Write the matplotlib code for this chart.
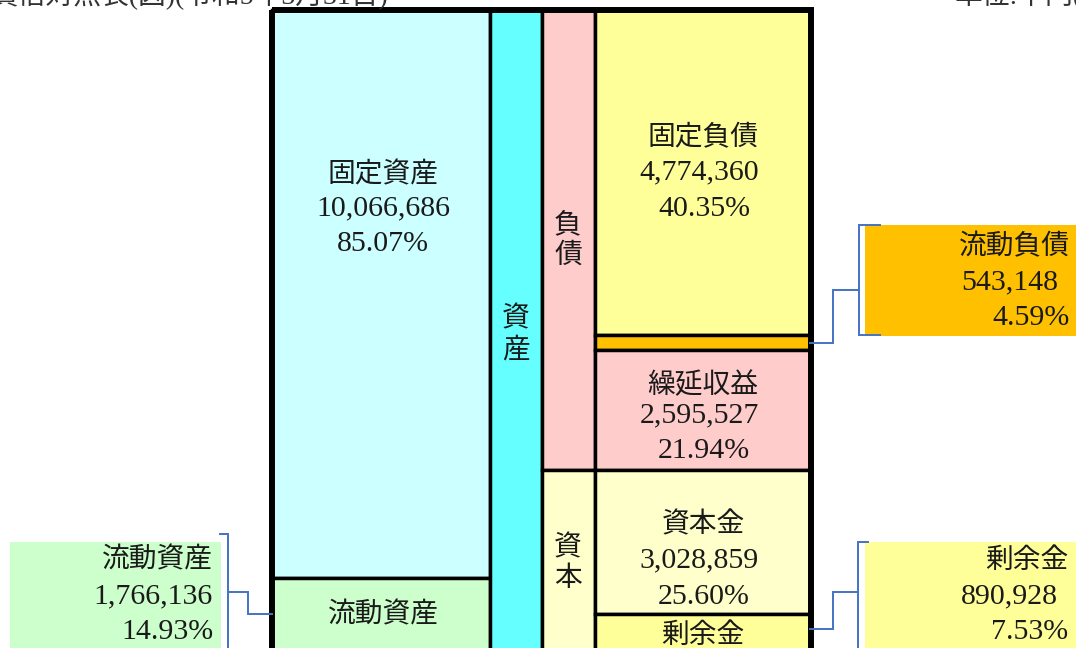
import matplotlib
matplotlib.use("Agg")
import matplotlib.pyplot as plt
from matplotlib.patches import Rectangle

plt.rcParams['font.family'] = ['Liberation Serif', 'Noto Sans CJK JP', 'DejaVu Sans']

# ---------------- data ----------------
title_text = "貸借対照表(図)(令和5年3月31日)"
unit_text = "単位:千円(税抜)"

asset_labels = ["固定資産", "流動資産"]
asset_values = [10066686, 1766136]
asset_pcts = [85.07, 14.93]

liab_labels = ["固定負債", "流動負債", "繰延収益", "資本金", "剰余金"]
liab_values = [4774360, 543148, 2595527, 3028859, 890928]
liab_pcts = [40.35, 4.59, 21.94, 25.60, 7.53]

group_labels = ["資産", "負債", "資本"]

# ---------------- layout / style ----------------
W, H = 1076, 648
PX_PER_PCT = 6.677          # vertical scale of the diagram (pixels per percent)
TOP_PX = 10                 # top border of the diagram
# right column drawn in (non-proportional) display positions, in percent units
right_edges = [0, 48.67, 50.85, 68.82, 90.39, 100]
liab_colors = ["#FFFF99", "#FFC000", "#FFCCCC", "#FFFFCC", "#FFFF99"]
asset_colors = ["#CCFFFF", "#CCFFCC"]
col_x = [272, 490, 541.5, 595, 810.5]
inner_lw = 2.5
outer_lw = 4.3
blue = "#4472C4"
FS = 20      # kanji labels
FSN = 21.5   # numbers
KDY = 3      # vertical nudge for kanji labels

fig = plt.figure(figsize=(W / 100, H / 100), dpi=100)
# diagram axes: x in pixels, y in percent of total
ax = fig.add_axes([0, 0, 1, 1])
ax.set_xlim(0, W)
ax.set_ylim((H - TOP_PX) / PX_PER_PCT, -TOP_PX / PX_PER_PCT)
ax.axis("off")

# overlay axes in pixel coordinates for text and callouts
tx = fig.add_axes([0, 0, 1, 1])
tx.set_xlim(0, W)
tx.set_ylim(H, 0)
tx.axis("off")
tx.patch.set_alpha(0)

# left column: assets (proportional)
total = sum(asset_values)
bottom = 0.0
for lab, v, c in zip(asset_labels, asset_values, asset_colors):
    h = v / total * 100
    ax.bar(col_x[0], h, bottom=bottom, width=col_x[1] - col_x[0], align="edge",
           color=c, edgecolor="black", linewidth=inner_lw)
    bottom += h

# group columns
ax.bar(col_x[1], 100, bottom=0, width=col_x[2] - col_x[1], align="edge",
       color="#66FFFF", edgecolor="black", linewidth=inner_lw)
ax.bar(col_x[2], right_edges[3], bottom=0, width=col_x[3] - col_x[2], align="edge",
       color="#FFCCCC", edgecolor="black", linewidth=inner_lw)
ax.bar(col_x[2], 100 - right_edges[3], bottom=right_edges[3], width=col_x[3] - col_x[2],
       align="edge", color="#FFFFCC", edgecolor="black", linewidth=inner_lw)

# right column items
for i, c in enumerate(liab_colors):
    ax.bar(col_x[3], right_edges[i + 1] - right_edges[i], bottom=right_edges[i],
           width=col_x[4] - col_x[3], align="edge", color=c, edgecolor="black",
           linewidth=inner_lw)

# outer border
ax.add_patch(Rectangle((col_x[0], 0), col_x[4] - col_x[0], 100, fill=False,
                       edgecolor="black", linewidth=outer_lw, zorder=5))

def fmt(v):
    return f"{v:,}"

def txt(x, y, s, ha="center", fs=FS):
    if fs == FS:
        y = y + KDY
    tx.text(x, y, s, ha=ha, va="center", fontsize=fs, color="#1a1a1a")

# title row (partially outside the picture, as in the reference)
tx.text(388, 4, title_text, ha="right", va="baseline", fontsize=FS, color="#333333")
tx.text(955, 4, unit_text, ha="left", va="baseline", fontsize=FS, color="#333333")

# 固定資産
txt(383, 172, asset_labels[0])
txt(383, 208, fmt(asset_values[0]), fs=FSN)
txt(383, 244, f"{asset_pcts[0]:.2f}%", fs=FSN)
# 流動資産 in-box label
txt(383, 612, asset_labels[1])

# vertical group labels
for ch, y in zip(group_labels[0], [316, 348]):
    txt(516, y, ch)
for ch, y in zip(group_labels[1], [222, 253]):
    txt(568, y, ch)
for ch, y in zip(group_labels[2], [545, 576]):
    txt(568, y, ch)

# right column labels
for i, ys in [(0, (135, 172, 209)), (2, (383, 415, 451)), (3, (522, 560, 597))]:
    txt(703, ys[0], liab_labels[i])
    txt(699, ys[1], fmt(liab_values[i]), fs=FSN)
    txt(704, ys[2], f"{liab_pcts[i]:.2f}%", fs=FSN)
txt(703, 633, liab_labels[4])

# callout boxes
tx.add_patch(Rectangle((865, 225), 230, 111, color="#FFC000", lw=0, zorder=1))
tx.add_patch(Rectangle((865, 542), 230, 120, color="#FFFF99", lw=0, zorder=1))
tx.add_patch(Rectangle((10, 542), 211, 120, color="#CCFFCC", lw=0, zorder=1))

txt(1070, 244, liab_labels[1], ha="right")
txt(1058, 282, fmt(liab_values[1]), ha="right", fs=FSN)
txt(1070, 318, f"{liab_pcts[1]:.2f}%", ha="right", fs=FSN)

txt(1068, 558, liab_labels[4], ha="right")
txt(1058, 596, fmt(liab_values[4]), ha="right", fs=FSN)
txt(1068, 632, f"{liab_pcts[4]:.2f}%", ha="right", fs=FSN)

txt(213, 557, asset_labels[1], ha="right")
txt(213, 596, fmt(asset_values[1]), ha="right", fs=FSN)
txt(213, 632, f"{asset_pcts[1]:.2f}%", ha="right", fs=FSN)

# brackets / connectors
lk = dict(color=blue, lw=1.4, solid_joinstyle="miter", zorder=3)
tx.plot([880, 859, 859, 880], [225, 225, 335, 335], **lk)
tx.plot([859, 833, 833, 810], [290, 290, 343, 343], **lk)
tx.plot([868, 858, 858], [542, 542, 660], **lk)
tx.plot([858, 833, 833, 810], [592, 592, 629, 629], **lk)
tx.plot([220, 228, 228], [534, 534, 660], **lk)
tx.plot([228, 248, 248, 272], [592, 592, 614, 614], **lk)

fig.savefig("out.png", dpi=100)
